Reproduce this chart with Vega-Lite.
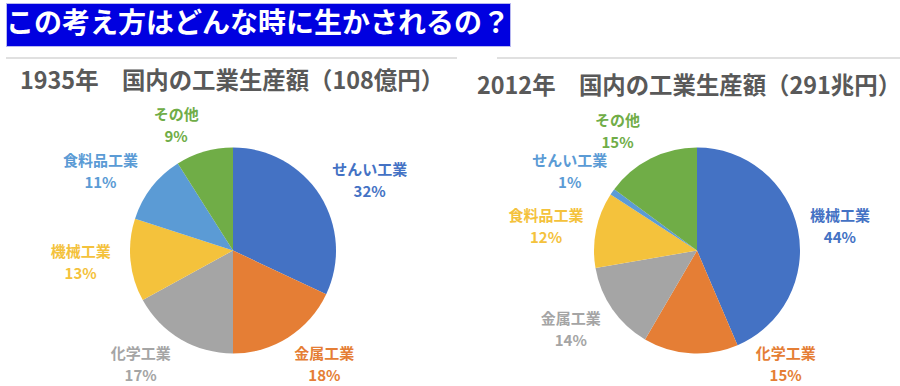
{
  "$schema": "https://vega.github.io/schema/vega-lite/v6.json",
  "padding": {"left": 5, "top": 2, "right": 0, "bottom": 0},
  "bounds": "flush",
  "spacing": 12,
  "background": "white",
  "config": {
    "view": {"stroke": null},
    "font": "Noto Sans CJK JP",
    "title": {"fontSize": 23.4, "fontWeight": "bold", "color": "#595959", "anchor": "middle", "offset": 14, "font": "Noto Sans CJK JP"},
    "text": {"fontSize": 15, "fontWeight": "bold", "align": "center", "baseline": "middle", "lineHeight": 22}
  },
  "datasets": {
    "d1935": [
      {"name": "せんい工業", "v": 0.32, "n": 1},
      {"name": "金属工業", "v": 0.18, "n": 2},
      {"name": "化学工業", "v": 0.17, "n": 3},
      {"name": "機械工業", "v": 0.13, "n": 4},
      {"name": "食料品工業", "v": 0.11, "n": 5},
      {"name": "その他", "v": 0.09, "n": 6}
    ],
    "d2012": [
      {"name": "機械工業", "v": 0.44, "n": 1},
      {"name": "化学工業", "v": 0.15, "n": 2},
      {"name": "金属工業", "v": 0.14, "n": 3},
      {"name": "食料品工業", "v": 0.12, "n": 4},
      {"name": "せんい工業", "v": 0.01, "n": 5},
      {"name": "その他", "v": 0.15, "n": 6}
    ]
  },
  "vconcat": [
    {
      "width": 504,
      "height": 43,
      "view": {"fill": "#0000e0", "stroke": "#b8b8f0"},
      "data": {"values": [{"t": "この考え方はどんな時に生かされるの？"}]},
      "mark": {"type": "text", "fontSize": 28, "fontWeight": "bold", "color": "white", "align": "center", "baseline": "middle"},
      "encoding": {"text": {"field": "t", "type": "nominal"}}
    },
    {
      "columns": 2,
      "bounds": "flush",
      "spacing": {"row": 12, "column": 37},
      "resolve": {"scale": {"color": "independent", "theta": "independent"}},
      "concat": [
        {
          "width": 451, "height": 45,
          "view": {"fill": null, "stroke": "#e0e0e0", "strokeWidth": 2, "strokeDash": [451, 3000]},
          "data": {"values": [{}]},
          "mark": {"type": "text"},
          "encoding": {}
        },
        {
          "width": 404, "height": 45,
          "view": {"fill": null, "stroke": "#e0e0e0", "strokeWidth": 2, "strokeDash": [404, 3000]},
          "data": {"values": [{}]},
          "mark": {"type": "text"},
          "encoding": {}
        },
        {
          "width": 454,
          "height": 271,
          "title": {"text": "1935年　国内の工業生産額（108億円）", "dx": -1},
          "data": {"name": "d1935"},
          "transform": [
            {"stack": "v", "groupby": [], "sort": [{"field": "n", "order": "ascending"}], "as": ["t0", "t1"]},
            {"calculate": "(datum.t0 + datum.t1) / 2", "as": "tm"},
            {"calculate": "[datum.name, format(datum.v, '.0%')]", "as": "lab"}
          ],
          "encoding": {
            "color": {
              "field": "name", "type": "nominal", "legend": null,
              "scale": {
                "domain": ["せんい工業", "金属工業", "化学工業", "機械工業", "食料品工業", "その他"],
                "range": ["#4472C4", "#E57E35", "#A5A5A5", "#F4C23C", "#5B9BD5", "#70AD47"]
              }
            }
          },
          "layer": [
            {
              "mark": {"type": "arc", "radius": 103},
              "encoding": {
                "theta": {"field": "t0", "type": "quantitative", "stack": null, "scale": {"domain": [0, 1], "nice": false}},
                "theta2": {"field": "t1"}
              }
            },
            {
              "transform": [{"filter": "datum.name == 'せんい工業'"}],
              "mark": {"type": "text", "radius": 150, "dx": 10},
              "encoding": {
                "theta": {"field": "tm", "type": "quantitative", "stack": null},
                "text": {"field": "lab", "type": "nominal"}
              }
            },
            {
              "transform": [{"filter": "datum.name == '食料品工業'"}],
              "mark": {"type": "text", "radius": 150, "dx": -14, "dy": 2},
              "encoding": {
                "theta": {"field": "tm", "type": "quantitative", "stack": null},
                "text": {"field": "lab", "type": "nominal"}
              }
            },
            {
              "transform": [{"filter": "datum.name == '機械工業'"}],
              "mark": {"type": "text", "radius": 150, "dx": -3, "dy": -13},
              "encoding": {
                "theta": {"field": "tm", "type": "quantitative", "stack": null},
                "text": {"field": "lab", "type": "nominal"}
              }
            },
            {
              "transform": [{"filter": "datum.name == '金属工業'"}],
              "mark": {"type": "text", "radius": 150, "dx": 11, "dy": -23},
              "encoding": {
                "theta": {"field": "tm", "type": "quantitative", "stack": null},
                "text": {"field": "lab", "type": "nominal"}
              }
            },
            {
              "transform": [{"filter": "datum.name == '化学工業'"}],
              "mark": {"type": "text", "radius": 150, "dx": -16, "dy": -26},
              "encoding": {
                "theta": {"field": "tm", "type": "quantitative", "stack": null},
                "text": {"field": "lab", "type": "nominal"}
              }
            },
            {
              "transform": [{"filter": "datum.name == 'その他'"}],
              "mark": {"type": "text", "radius": 150, "dx": -15, "dy": 9},
              "encoding": {
                "theta": {"field": "tm", "type": "quantitative", "stack": null},
                "text": {"field": "lab", "type": "nominal"}
              }
            }
          ]
        },
        {
          "width": 400,
          "height": 271,
          "title": {"text": "2012年　国内の工業生産額（291兆円）", "dx": -8},
          "data": {"name": "d2012"},
          "transform": [
            {"stack": "v", "groupby": [], "sort": [{"field": "n", "order": "ascending"}], "as": ["t0", "t1"]},
            {"calculate": "(datum.t0 + datum.t1) / 2", "as": "tm"},
            {"calculate": "[datum.name, format(datum.v, '.0%')]", "as": "lab"}
          ],
          "encoding": {
            "color": {
              "field": "name", "type": "nominal", "legend": null,
              "scale": {
                "domain": ["機械工業", "化学工業", "金属工業", "食料品工業", "せんい工業", "その他"],
                "range": ["#4472C4", "#E57E35", "#A5A5A5", "#F4C23C", "#5B9BD5", "#70AD47"]
              }
            }
          },
          "layer": [
            {
              "mark": {"type": "arc", "radius": 103},
              "encoding": {
                "theta": {"field": "t0", "type": "quantitative", "stack": null, "scale": {"domain": [0, 1.01], "nice": false}},
                "theta2": {"field": "t1"}
              }
            },
            {
              "transform": [{"filter": "datum.name == '機械工業' || datum.name == '食料品工業' || datum.name == 'せんい工業'"}],
              "mark": {"type": "text", "radius": 150, "dx": -4, "dy": -4},
              "encoding": {
                "theta": {"field": "tm", "type": "quantitative", "stack": null},
                "text": {"field": "lab", "type": "nominal"}
              }
            },
            {
              "transform": [{"filter": "datum.name == '金属工業'"}],
              "mark": {"type": "text", "radius": 150, "dx": -3, "dy": -17},
              "encoding": {
                "theta": {"field": "tm", "type": "quantitative", "stack": null},
                "text": {"field": "lab", "type": "nominal"}
              }
            },
            {
              "transform": [{"filter": "datum.name == '化学工業'"}],
              "mark": {"type": "text", "radius": 150, "dx": 98, "dy": -46},
              "encoding": {
                "theta": {"field": "tm", "type": "quantitative", "stack": null},
                "text": {"field": "lab", "type": "nominal"}
              }
            },
            {
              "transform": [{"filter": "datum.name == 'その他'"}],
              "mark": {"type": "text", "radius": 150, "dx": -12, "dy": 4},
              "encoding": {
                "theta": {"field": "tm", "type": "quantitative", "stack": null},
                "text": {"field": "lab", "type": "nominal"}
              }
            }
          ]
        }
      ]
    }
  ]
}
